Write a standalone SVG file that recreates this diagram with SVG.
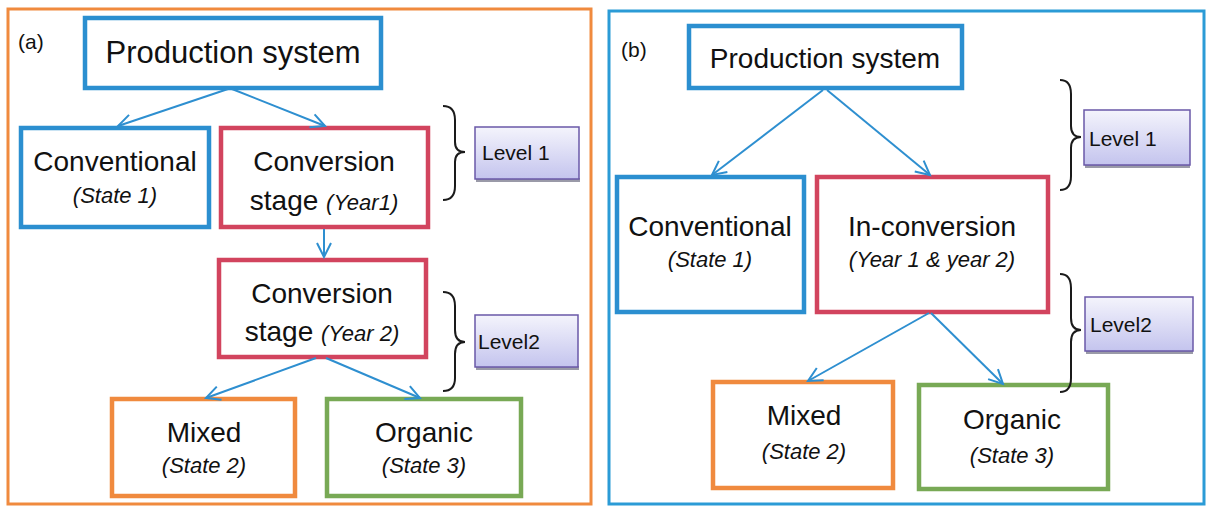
<svg xmlns="http://www.w3.org/2000/svg" width="1208" height="507" viewBox="0 0 1208 507">
<defs>
<linearGradient id="lvl" x1="0" y1="0" x2="0" y2="1">
<stop offset="0" stop-color="#f4f4fc"/>
<stop offset="1" stop-color="#c4c4ee"/>
</linearGradient>
<marker id="arr" markerWidth="18" markerHeight="18" viewBox="0 0 18 18" refX="15" refY="9" orient="auto" markerUnits="userSpaceOnUse">
<path d="M1,2 L15,9 L1,16" fill="none" stroke="#2e8fd0" stroke-width="2"/>
</marker>
<style>
.t{font-family:"Liberation Sans",Arial,sans-serif;fill:#111;text-anchor:middle}
.big{font-size:28px}
.ps{font-size:31px}
.ps2{font-size:28px}
.it{font-style:italic;font-size:22px}
.lab{font-family:"Liberation Sans",Arial,sans-serif;font-size:21px;fill:#111}
.lv{font-family:"Liberation Sans",Arial,sans-serif;font-size:21px;fill:#111}
.box{fill:#fff;stroke-width:4.5}
.blue{stroke:#2b8fd0}
.red{stroke:#d2445e}
.orange{stroke:#f08a3e}
.green{stroke:#78a955}
.lbox{fill:url(#lvl);stroke:#6a58a8;stroke-width:1.5}
.shadow{fill:#9a9aa8}
.brace{fill:none;stroke:#1a1a1a;stroke-width:2}
.conn{fill:none;stroke:#2e8fd0;stroke-width:2;marker-end:url(#arr)}
</style>
</defs>
<rect width="1208" height="507" fill="#fff"/>

<!-- Panel a -->
<g id="panel-a">
<rect x="8" y="9" width="583" height="495" fill="#fff" stroke="#f08a3e" stroke-width="3"/>
<text class="lab" x="18" y="49">(a)</text>
</g>
<g id="a-prod">
<rect class="box blue" x="85" y="18" width="296" height="70"/>
<text class="t ps" x="233" y="63">Production system</text>
</g>
<g id="a-conv">
<rect class="box blue" x="21" y="128" width="188" height="99"/>
<text class="t big" x="115" y="171">Conventional</text>
<text class="t it" x="115" y="203">(State 1)</text>
</g>
<g id="a-y1">
<rect class="box red" x="221" y="128" width="207" height="99"/>
<text class="t big" x="324" y="171">Conversion</text>
<text class="t big" x="324" y="210"><tspan>stage </tspan><tspan class="it">(Year1)</tspan></text>
</g>
<g id="a-y2">
<rect class="box red" x="219" y="260" width="207" height="97"/>
<text class="t big" x="322" y="303">Conversion</text>
<text class="t big" x="322" y="341"><tspan>stage </tspan><tspan class="it">(Year 2)</tspan></text>
</g>
<g id="a-mixed">
<rect class="box orange" x="112" y="399" width="183" height="97"/>
<text class="t big" x="204" y="442">Mixed</text>
<text class="t it" x="204" y="473">(State 2)</text>
</g>
<g id="a-organic">
<rect class="box green" x="327" y="399" width="194" height="97"/>
<text class="t big" x="424" y="442">Organic</text>
<text class="t it" x="424" y="473">(State 3)</text>
</g>
<g id="a-level1">
<path class="brace" d="M443,106 Q455,106 455,120 L455,142 Q455,152 465,152 Q455,152 455,162 L455,186 Q455,200 443,200"/>
<rect class="shadow" x="476" y="178" width="104" height="4"/>
<rect class="lbox" x="475" y="127" width="104" height="52"/>
<text class="lv" x="482" y="160">Level 1</text>
</g>
<g id="a-level2">
<path class="brace" d="M443,292 Q455,292 455,306 L455,330 Q455,342 465,342 Q455,342 455,354 L455,378 Q455,391 443,391"/>
<rect class="shadow" x="476" y="366" width="103" height="4"/>
<rect class="lbox" x="475" y="315" width="103" height="52"/>
<text class="lv" x="478" y="349">Level2</text>
</g>

<!-- Panel b -->
<g id="panel-b">
<rect x="609" y="11" width="595" height="493" fill="#fff" stroke="#2b9bd6" stroke-width="3"/>
<text class="lab" x="621" y="57">(b)</text>
</g>
<g id="b-prod">
<rect class="box blue" x="689" y="26" width="273" height="62"/>
<text class="t ps2" x="825" y="68">Production system</text>
</g>
<g id="b-conv">
<rect class="box blue" x="617" y="177" width="187" height="135"/>
<text class="t big" x="710" y="236">Conventional</text>
<text class="t it" x="710" y="267">(State 1)</text>
</g>
<g id="b-inconv">
<rect class="box red" x="817" y="177" width="231" height="135"/>
<text class="t big" x="932" y="236">In-conversion</text>
<text class="t it" x="932" y="267">(Year 1 &amp; year 2)</text>
</g>
<g id="b-mixed">
<rect class="box orange" x="713" y="382" width="180" height="106"/>
<text class="t big" x="804" y="425">Mixed</text>
<text class="t it" x="804" y="459">(State 2)</text>
</g>
<g id="b-organic">
<rect class="box green" x="919" y="385" width="189" height="104"/>
<text class="t big" x="1012" y="429">Organic</text>
<text class="t it" x="1012" y="463">(State 3)</text>
</g>
<g id="b-level1">
<path class="brace" d="M1060,80 Q1071,80 1071,94 L1071,126 Q1071,137 1081,137 Q1071,137 1071,148 L1071,176 Q1071,190 1060,190"/>
<rect class="shadow" x="1085" y="164" width="105" height="4"/>
<rect class="lbox" x="1084" y="110" width="106" height="55"/>
<text class="lv" x="1089" y="146">Level 1</text>
</g>
<g id="b-level2">
<path class="brace" d="M1060,274 Q1071,274 1071,288 L1071,318 Q1071,330 1081,330 Q1071,330 1071,342 L1071,378 Q1071,392 1060,392"/>
<rect class="shadow" x="1086" y="350" width="107" height="4"/>
<rect class="lbox" x="1085" y="297" width="108" height="54"/>
<text class="lv" x="1090" y="332">Level2</text>
</g>

<!-- Connectors -->
<g id="connectors">
<line class="conn" x1="228" y1="89" x2="118" y2="126"/>
<line class="conn" x1="232" y1="89" x2="325" y2="126"/>
<line class="conn" x1="324" y1="229" x2="324" y2="257"/>
<line class="conn" x1="316" y1="358" x2="206" y2="398"/>
<line class="conn" x1="326" y1="358" x2="420" y2="398"/>
<line class="conn" x1="823" y1="90" x2="712" y2="175"/>
<line class="conn" x1="827" y1="90" x2="930" y2="175"/>
<line class="conn" x1="929" y1="313" x2="808" y2="381"/>
<line class="conn" x1="931" y1="313" x2="1003" y2="384"/>
</g>
</svg>
